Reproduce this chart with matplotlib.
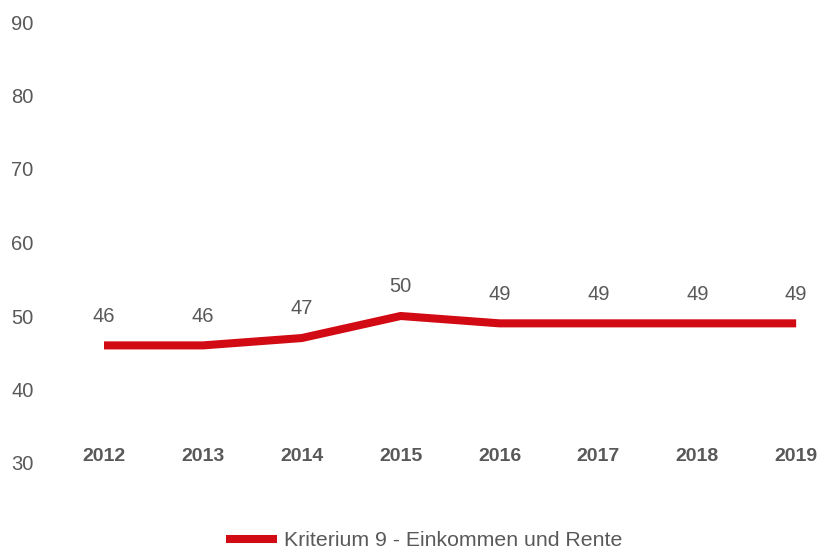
import matplotlib.pyplot as plt

years = ["2012", "2013", "2014", "2015", "2016", "2017", "2018", "2019"]
values = [46, 46, 47, 50, 49, 49, 49, 49]
series_name = "Kriterium 9 - Einkommen und Rente"

red = "#d20a14"
grey = "#595959"

plt.rcParams["font.family"] = ["Liberation Sans", "DejaVu Sans"]

fig = plt.figure(figsize=(8.19, 5.5), dpi=100)
ax = fig.add_axes([60 / 819, 1 - 463 / 550, 750 / 819, 441 / 550])

x = list(range(len(years)))
ax.plot(x, values, color=red, linewidth=5.8, solid_capstyle="butt",
        solid_joinstyle="miter", label=series_name)

for xi, v in zip(x, values):
    ax.annotate(str(v), (xi, v), xytext=(0, 21), textcoords="offset points",
                ha="center", va="center", fontsize=14.5, color=grey)

ax.set_xlim(-0.445, 7.14)
ax.set_ylim(30, 90)
ax.set_yticks(range(30, 91, 10))
ax.set_xticks(x, years)
for lab in ax.get_xticklabels():
    lab.set_fontweight("bold")
ax.tick_params(axis="x", length=0, pad=-10.8, labelsize=14, labelcolor=grey)
ax.tick_params(axis="y", length=0, pad=19, labelsize=14.5, labelcolor=grey)
for s in ax.spines.values():
    s.set_visible(False)

fig.legend(loc="center", bbox_to_anchor=(424 / 819, 1 - 541 / 550), frameon=False,
           fontsize=15.3, handlelength=2.4, handletextpad=0.33, labelcolor=grey)

fig.savefig("out.png", dpi=100)
